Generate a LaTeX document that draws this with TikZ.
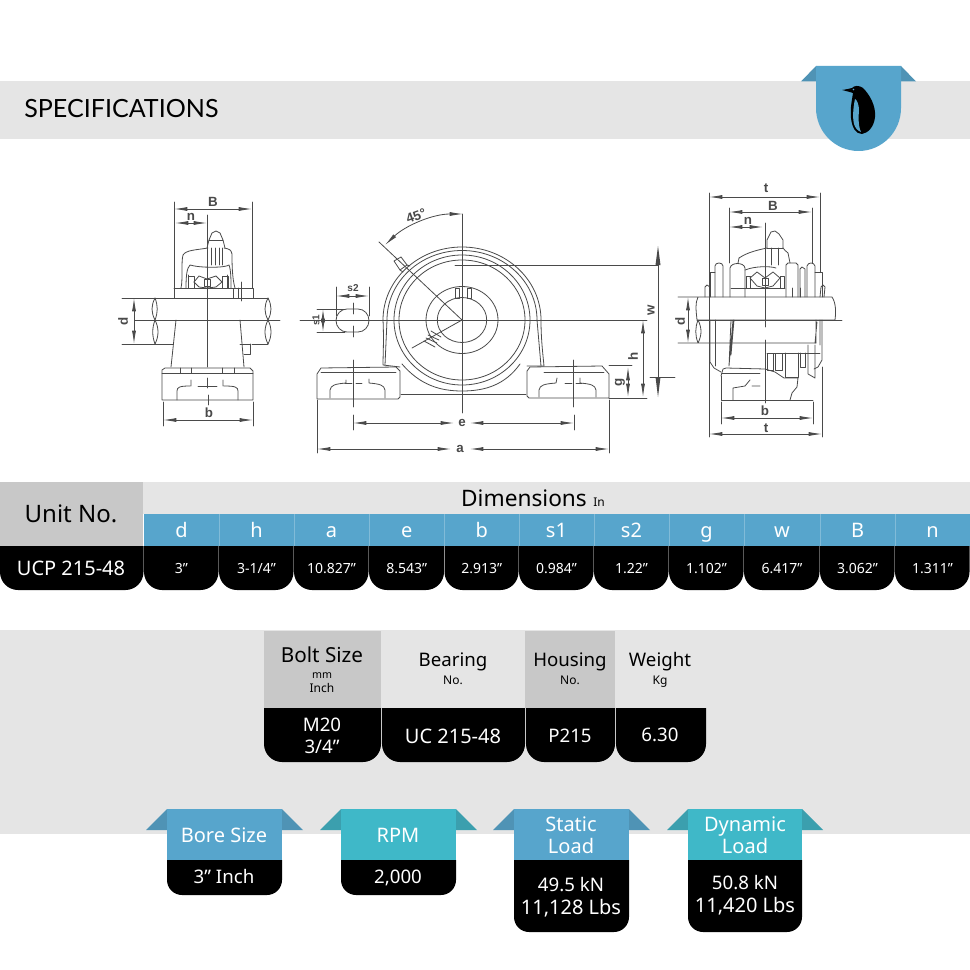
\documentclass[tikz,border=0pt]{standalone}
\usepackage{fontspec}
\setmainfont{Noto Sans}
\newfontfamily\headfont{Lato}
\newfontfamily\dimfont{Liberation Sans}
\usetikzlibrary{arrows.meta}
\definecolor{bandgray}{HTML}{E5E5E5}
\definecolor{boxgray}{HTML}{C8C8C8}
\definecolor{ribblue}{HTML}{57A5CC}
\definecolor{ribteal}{HTML}{3FB8C8}
\definecolor{foldblue}{HTML}{4F93B5}
\definecolor{foldteal}{HTML}{3B9FAE}
\definecolor{ink}{HTML}{4A4A4A}
\tikzset{
  lbl/.style={inner sep=0pt,align=center,text depth=0pt},
  big/.style={lbl,text height=12.5pt,font=\fontsize{18}{18}\selectfont},
  mid/.style={lbl,text height=10pt,font=\fontsize{14}{16}\selectfont},
  midlg/.style={lbl,text height=11pt,font=\fontsize{15.5}{16}\selectfont},
  dimhead/.style={lbl,text height=12pt,font=\fontsize{17}{17}\selectfont},
  val/.style={lbl,white,text height=7.5pt,font=\fontsize{10.5}{11}\selectfont},
  vallg/.style={lbl,white,text height=10pt,font=\fontsize{14}{16}\selectfont},
  valwd/.style={lbl,white,text height=10.5pt,font=\fontsize{15}{16}\selectfont},
  hdr/.style={lbl,white,text height=10.6pt,font=\fontsize{15}{15}\selectfont},
  tiny/.style={lbl,text height=5.7pt,font=\fontsize{8}{8}\selectfont},
  small/.style={lbl,text height=6.4pt,font=\fontsize{9}{9}\selectfont},
  ln/.style={draw=ink,line width=0.6pt,line cap=round,line join=round},
  dimline/.style={ln,{Latex[length=10pt,width=3pt]}-{Latex[length=10pt,width=3pt]}},
  dimlbl/.style={inner sep=0pt,text=ink,font=\dimfont\bfseries\fontsize{10}{10}\selectfont},
  dimsm/.style={dimlbl,font=\dimfont\bfseries\fontsize{7.5}{8}\selectfont},
}
% #1 x0, #2 x1, #3 y0, #4 y1, #5 radius
\newcommand{\blackcell}[5]{\fill[black] (#1,#3) -- (#2,#3) {[rounded corners=#5*0.75pt] -- (#2,#4) -- (#1,#4)} -- cycle;}
% ribbon: #1 x0, #2 x1, #3 y bottom of colour, #4 y bottom of black, #5 colour, #6 fold colour
\newcommand{\tagribbon}[6]{
  \fill[#6] (#1-21,830) -- (#1,809) -- (#1,830) -- cycle;
  \fill[#6] (#2,809) -- (#2+21,830) -- (#2,830) -- cycle;
  \fill[#5] (#1,809) rectangle (#2,#3);
  \blackcell{#1}{#2}{#3}{#4}{15}
}
\begin{document}
\begin{tikzpicture}[x=0.75pt,y=-0.75pt]
\useasboundingbox (0,0) rectangle (970,970);
\fill[white] (0,0) rectangle (970,970);

% ---------- header band ----------
\fill[bandgray] (0,81) rectangle (970,139);
\node[anchor=west,inner sep=0pt,font=\headfont\fontsize{18.8}{18}\selectfont] (title) at (24,108.5) {SPECIFICATIONS};
\fill[foldblue] (801,81.5) -- (816,66) -- (816,81.5) -- cycle;
\fill[foldblue] (901,66) -- (916,81.5) -- (901,81.5) -- cycle;
\fill[ribblue] (816,66) -- (901,66) -- (901,108) arc[start angle=0,end angle=-180,x radius=42.5,y radius=-43] -- cycle;
% penguin
\fill[black] (842,90) .. controls (846,89.5) and (850,88.5) .. (852,88)
  .. controls (854,85.5) and (859,85) .. (863,88)
  .. controls (870,95) and (876,106) .. (875,117)
  .. controls (874,127) and (868,133) .. (862,134)
  .. controls (856,134) and (852,128) .. (851,118)
  .. controls (850,108) and (852,100) .. (853,93)
  .. controls (850,92) and (846,91) .. (842,90) -- cycle;
\fill[ribblue] (855,99) .. controls (853,108) and (852.5,118) .. (854,124)
  .. controls (855,128) and (858,131) .. (861,132)
  .. controls (858,126) and (858.5,116) .. (859,110)
  .. controls (859,105) and (857,100) .. (855,99) -- cycle;
\fill[ribblue] (853.5,89.5) circle[radius=0.8];

% ---------- left view ----------
\draw[ln] (174,202) -- (174,288) (252,202) -- (252,288);
\draw[dimline] (174,209) -- (252,209);
\draw[dimline] (175,223) -- (207,223);
\draw[ln] (207,215) -- (207,367);
\node[dimlbl] (lB) at (213,202) {B};
\node[dimlbl] (ln) at (191,217) {n};
% dome
\draw[ln] (181,288) .. controls (183,280) and (181,262) .. (183,255) .. controls (186,250) and (196,250) .. (208,248);
\draw[ln] (224,248) .. controls (230,249) and (231,250) .. (232,254) .. controls (232,262) and (232,278) .. (235,288);
\draw[ln] (186,288) .. controls (186,275) and (187,268) .. (190,265) .. controls (200,268) and (225,268) .. (229,265) .. controls (231,270) and (231,280) .. (231,288);
\draw[ln] (188,288) -- (188,275) (227,288) -- (227,275);
% grease nipple
\draw[ln] (207,248) -- (209,240) -- (212,233) -- (216,231) -- (220,233) -- (223,240) -- (225,248);
\draw[ln] (209,240) -- (223,240) (211,248) -- (211,265) (215,248) -- (215,265) (219,248) -- (219,265) (222,248) -- (222,265);
% bearing centre
\draw[ln] (194,282) -- (199,276) -- (207,279) -- (216,276) -- (222,282);
\draw[ln] (194,282) -- (199,287) -- (207,288) -- (216,287) -- (222,282);
\draw[ln] (188,276) rectangle (194,288) (222,276) rectangle (228,288);
\draw[ln] (204,279) rectangle (210,286);
% collar & set screw
\draw[ln] (174,288) -- (252,288) (174,288) -- (174,298);
\draw[ln] (233,288) rectangle (253,298);
\draw[ln] (238,288) -- (238,298) (241,282) -- (241,301);
% shaft
\draw[ln] (122,298) -- (268,298) (122,344) -- (173,344) (252,344) -- (268,344);
\draw[ln] (135,320) -- (280,320);
\draw[dimline] (134,298) -- (134,344);
\node[dimlbl,rotate=90] (ld) at (123,321) {d};
\draw[ln] (155,298) .. controls (151,306) and (151,312) .. (155,320) .. controls (159,328) and (159,336) .. (155,344);
\draw[ln] (155,320) .. controls (152,328) and (152,336) .. (155,344) (155,298) .. controls (158,306) and (158,312) .. (155,320);
\draw[ln] (268,298) .. controls (272,306) and (272,312) .. (268,320) .. controls (264,328) and (264,336) .. (268,344);
\draw[ln] (268,298) .. controls (264,306) and (264,312) .. (268,320) .. controls (272,328) and (272,336) .. (268,344);
% pedestal
\draw[ln] (176,320) -- (171,367) (240,320) -- (244,367);
\draw[ln] (240,344) -- (250,344) (250,344) -- (250,354) -- (244,354);
% base
\draw[ln] (162,370) -- (165,368) -- (250,368) -- (253,371) -- (253,400) -- (162,400) -- cycle;
\draw[ln] (162,373) -- (253,373);
\draw[ln] (180,368) -- (180,373) (191,368) -- (191,373) (222,368) -- (222,373) (234,368) -- (234,373);
\draw[ln] (177,400) -- (177,391) .. controls (177,387) and (180,386) .. (190,386) (191,380) -- (191,386);
\draw[ln] (238,400) -- (238,391) .. controls (238,387) and (235,386) .. (224,386) (223,380) -- (223,386);
\draw[ln] (198,386) -- (217,386) (207,378) -- (207,388);
\draw[ln] (163,402) -- (163,426) (253,402) -- (253,426) (208,395) -- (208,405);
\draw[dimline] (163,420) -- (253,420);
\node[dimlbl] (lb) at (209,413) {b};

% ---------- front view ----------
\coordinate (ctr) at (462,320);
\begin{scope}[ln]
\draw (ctr) ++(-79,0) arc[start angle=180,end angle=0,x radius=79,y radius=-73];
\draw (ctr) ++(-75,0) arc[start angle=180,end angle=0,x radius=75,y radius=-69.5];
\draw (ctr) ellipse[x radius=68,y radius=65];
\draw (ctr) ellipse[x radius=63,y radius=60];
\draw (ctr) ellipse[x radius=36,y radius=33.5];
\draw (ctr) ellipse[x radius=24.7,y radius=22.5];
\draw (402,364) .. controls (420,385) and (440,391) .. (462,391) .. controls (485,391) and (505,385) .. (520,364);
% housing sides
\draw (383,320) .. controls (384,340) and (383,355) .. (383,365) -- (400,367);
\draw (387,320) -- (385,365);
\draw (541,320) .. controls (541,340) and (543,355) .. (544,366) -- (527,366);
\draw (537,320) -- (541,366);
% feet
\draw (317,374) -- (321,368) -- (396,367) -- (400,371) -- (400,397) -- (398,399) -- (317,399) -- cycle;
\draw (321,372) -- (396,372);
\draw (527,371) -- (530,367) -- (602,366) -- (609,374) -- (609,398) -- (529,398) -- (527,396) -- cycle;
\draw (544,372) -- (604,372);
\draw (401,394) -- (526,394);
% foot recesses
\draw (330,398) -- (330,390) .. controls (331,385) and (335,384) .. (346,383) -- (346,380);
\draw (385,398) -- (385,390) .. controls (384,385) and (380,384) .. (369,383) -- (369,379);
\draw (345,383) -- (352,383) (356,383) -- (362,383);
\draw (539,397) -- (539,390) .. controls (540,385) and (544,384) .. (556,383) -- (557,378);
\draw (596,397) -- (596,390) .. controls (595,385) and (591,384) .. (580,383) -- (580,378);
\draw (565,383) -- (572,383) (576,383) -- (582,383);
% centre ticks
\draw (353,360) -- (353,407) (573,360) -- (573,407);
% centre lines
\draw (462,214) -- (462,413) (300,320) -- (647,320);
\draw (379,242) -- (ctr) -- (412,348);
% keyways
\draw (455,288) rectangle (459,298) (467,288) rectangle (471,298);
\draw (428,335) -- (439,340) (431,331) -- (441,337) (426,338) -- (437,343) (424,341) -- (435,347);
% grease nipple
\draw (394,261) -- (401,257) -- (407,265) -- (400,270) -- cycle;
\draw (400,270) -- (403,272) (407,265) -- (410,266);
% slot
\draw (347,309) -- (358,309) arc[start angle=90,end angle=-90,x radius=11,y radius=-11.5] -- (347,332) arc[start angle=270,end angle=90,x radius=11,y radius=-11.5] -- cycle;
\draw (336,287) -- (336,316) (369,287) -- (369,316);
\draw (317,309) -- (345,309) (317,332) -- (345,332);
\draw (353,303) -- (353,314) (353,326) -- (353,337);
% dims
\draw (317,400) -- (317,453) (609,400) -- (609,453);
\draw (353,415) -- (353,430) (574,415) -- (574,430);
\draw (609,365) -- (632,365) (609,398) -- (647,398);
\draw (455,265) -- (658,265) (650,377) -- (675,377);
\draw (658,265) -- (658,377);
\end{scope}
\fill[ink] (658,246) -- (660.5,265) -- (655.5,265) -- cycle;
\fill[ink] (658,397) -- (660.5,377) -- (655.5,377) -- cycle;
\draw[dimline] (336,296) -- (369,296);
\draw[dimline] (323,309) -- (323,332);
\draw[ln,{Latex[length=10pt,width=3pt]}-{Latex[length=10pt,width=3pt]}] (385,245) .. controls (405,226) and (432,214) .. (463,214);
\draw[dimline] (643,320) -- (643,397);
\draw[dimline] (628,367) -- (628,397);
\draw[dimline] (353,423) -- (454,423);
\draw[dimline] (574,423) -- (470,423);
\draw[dimline] (317,449) -- (451,449);
\draw[dimline] (609,449) -- (470,449);
\node[dimlbl] (fe) at (462,423) {e};
\node[dimlbl] (fa) at (460,449) {a};
\node[dimsm] (fs2) at (353,288) {s2};
\node[dimsm,rotate=90] (fs1) at (316,320) {s1};
\node[dimlbl,rotate=20] (f45) at (416,216) {45\textdegree};
\node[dimlbl,rotate=90] (fw) at (651,310) {w};
\node[dimlbl,rotate=90] (fh) at (633,356) {h};
\node[dimlbl,rotate=90] (fg) at (620,382) {g};

% ---------- right view ----------
\begin{scope}[ln]
\draw (709,193) -- (709,437) (820,193) -- (820,272) (822,367) -- (822,437);
\draw (729,208) -- (729,263) (812,208) -- (812,263);
\draw (765,223) -- (765,327) (765,340) -- (765,403);
% shaft
\draw (678,297) -- (832,297) .. controls (836,303) and (836,312) .. (835,320) -- (697,320) .. controls (696,310) and (695,303) .. (698,297);
\draw (678,343) -- (816,343) (698,343) .. controls (702,335) and (702,328) .. (698,320) .. controls (695,328) and (695,335) .. (698,343);
\draw (697,320) -- (842,320);
% top dome
\draw (739,258) .. controls (748,252) and (758,250) .. (767,248) (783,248) .. controls (784,250) and (786,251) .. (788,253) -- (790,263);
\draw (739,258) -- (738,263) (745,270) .. controls (755,266) and (770,266) .. (776,268);
\draw (767,248) -- (767,240) -- (771,232) -- (775,231) -- (779,234) -- (783,240) -- (783,248);
\draw (767,248) -- (783,248) (771,248) -- (771,265) (778,248) -- (778,265);
% side collars (upper)
\draw (715,297) -- (715,266) .. controls (715,262) and (723,262) .. (723,266) -- (723,297);
\draw (710,297) -- (710,272) -- (715,272);
\draw (705,297) -- (705,287) -- (707,285) -- (710,287);
\draw (730,297) -- (730,268) .. controls (731,262) and (744,262) .. (745,268) -- (745,297);
\draw (786,297) -- (786,265) -- (788,263) -- (796,263) -- (798,265) -- (798,297);
\draw (800,297) -- (800,269) -- (802,267) -- (805,269) -- (805,297);
\draw (807,297) -- (807,266) .. controls (808,262) and (814,262) .. (815,266) -- (815,297);
\draw (815,272) -- (822,272) -- (822,297);
\draw (820,297) -- (821,287) -- (823,285) -- (825,287) -- (824,297);
% bearing
\draw (750,278) -- (757,272) -- (765,278) -- (773,272) -- (780,278) -- (773,286) -- (765,288) -- (757,286) -- cycle;
\draw (746,276) rectangle (750,288) (780,276) rectangle (784,288);
\draw (762,278) rectangle (768,285);
\draw (731,288) -- (785,288) (792,288) -- (792,297) (800,288) -- (800,297);
% lower body
\draw (710,320) -- (710,362) -- (714,368) -- (721,372);
\draw (715,320) -- (715,366);
\draw (731,320) -- (729,366) (733,320) -- (729,366) (734,320) -- (731,355);
\draw (820,320) -- (820,345) (816,320) -- (816,343) (815,343) -- (817,322);
\draw (822,320) -- (822,360) -- (818,367) -- (814,369);
\draw (767,353) -- (820,353);
\draw (767,353) rectangle (773,370) (775,353) rectangle (782,370);
\draw (785,353) -- (785,377) -- (798,377) -- (798,353);
\draw (800,353) -- (800,367) -- (805,367) -- (805,353);
\draw (808,345) -- (808,374) -- (815,378) -- (815,345);
% base
\draw (721,376) -- (723,369) -- (726,368) -- (765,369) -- (775,372) -- (784,378) -- (798,378) -- (797,387) -- (792,393) -- (790,400);
\draw (721,376) -- (721,400) -- (813,400);
\draw (722,373) -- (760,373);
\draw (733,400) -- (733,388) -- (745,386) -- (750,380) (752,386) -- (760,386);
\draw (721,402) -- (721,424) (813,402) -- (813,424);
\end{scope}
\draw[dimline] (709,197) -- (820,197);
\draw[dimline] (729,212) -- (812,212);
\draw[dimline] (729,227) -- (763,227);
\draw[dimline] (688,297) -- (688,343);
\draw[dimline] (721,418) -- (813,418);
\draw[dimline] (709,434) -- (822,434);
\node[dimlbl] (rt1) at (766,188) {t};
\node[dimlbl] (rB) at (773,206) {B};
\node[dimlbl] (rn) at (748,221) {n};
\node[dimlbl,rotate=90] (rd) at (680,321) {d};
\node[dimlbl] (rb) at (765,411) {b};
\node[dimlbl] (rt2) at (766,428) {t};

% ---------- dimensions table ----------
\fill[bandgray] (143,482) rectangle (970,514);
\fill[boxgray] (0,482) rectangle (143,546);
\fill[ribblue] (144,514) rectangle (970,546);
\foreach \xa in {219,294,369,444.5,519,594,669,744,820,895}
  \draw[white,opacity=0.25,line width=0.4pt] (\xa,514) -- (\xa,546);
\node[big] (unit) at (71,514) {Unit No.};
\node[dimhead] (dims) at (524,498) {Dimensions};
\node[small] (inch) at (599,502) {In};
\blackcell{0}{143.5}{546}{590}{18}
\node[valwd] (ucp) at (71,568) {UCP 215-48};
\foreach \xa/\xb/\h/\v/\n in {
 144/219/d/3"/0, 219/294/h/3-1\slash 4"/1, 294/369/a/10.827"/2, 369/444.5/e/8.543"/3,
 444.5/519/b/2.913"/4, 519/594/s1/0.984"/5, 594/669/s2/1.22"/6, 669/744/g/1.102"/7,
 744/820/w/6.417"/8, 820/895/B/3.062"/9, 895/970/n/1.311"/10}{
  \blackcell{\xa}{\xb-0.5}{546}{590}{18}
  \node[hdr] (h\n) at ({(\xa+\xb)/2},530) {\h};
  \node[val] (v\n) at ({(\xa+\xb)/2},568.5) {\v};
}

% ---------- middle band ----------
\fill[bandgray] (0,630) rectangle (970,834);
\fill[boxgray] (264,631) rectangle (381,708);
\fill[boxgray] (525,631) rectangle (615,708);
\blackcell{264}{381}{708}{762}{18}
\blackcell{382}{525}{708}{762}{18}
\blackcell{526}{615}{708}{762}{18}
\blackcell{616}{706}{708}{762}{18}
\node[midlg] (bolt) at (322,655) {Bolt Size};
\node[tiny] (mm) at (322,675) {mm};
\node[small] (inchb) at (322,688) {Inch};
\node[mid] (bear) at (453,660) {Bearing};
\node[small] (bearno) at (453,680) {No.};
\node[mid] (hous) at (570,660) {Housing};
\node[small] (houno) at (570,680) {No.};
\node[mid] (wgt) at (660,660) {Weight};
\node[small] (kg) at (660,680) {Kg};
\node[vallg] (m20) at (322,725) {M20};
\node[vallg] (tq) at (322,747) {3\slash 4"};
\node[valwd] (uc) at (453,736) {UC 215-48};
\node[vallg] (p215) at (570,736) {P215};
\node[vallg] (w630) at (660,735) {6.30};

% ---------- ribbons ----------
\tagribbon{167}{282}{860}{895}{ribblue}{foldblue}
\tagribbon{341}{456}{860}{895}{ribteal}{foldteal}
\tagribbon{514}{629}{860}{932}{ribblue}{foldblue}
\tagribbon{688}{802}{860}{932}{ribteal}{foldteal}
\node[hdr] (bore) at (224,835) {Bore Size};
\node[vallg] (borev) at (224,877) {3" Inch};
\node[hdr] (rpm) at (398,835) {RPM};
\node[vallg] (rpmv) at (398,877) {2,000};
\node[hdr] (st1) at (571,824) {Static};
\node[hdr] (st2) at (571,846) {Load};
\node[vallg] (st3) at (571,885) {49.5 kN};
\node[valwd] (st4) at (571,907) {11,128 Lbs};
\node[hdr] (dy1) at (745,824) {Dynamic};
\node[hdr] (dy2) at (745,846) {Load};
\node[vallg] (dy3) at (745,883) {50.8 kN};
\node[valwd] (dy4) at (745,905) {11,420 Lbs};
\end{tikzpicture}
\end{document}
